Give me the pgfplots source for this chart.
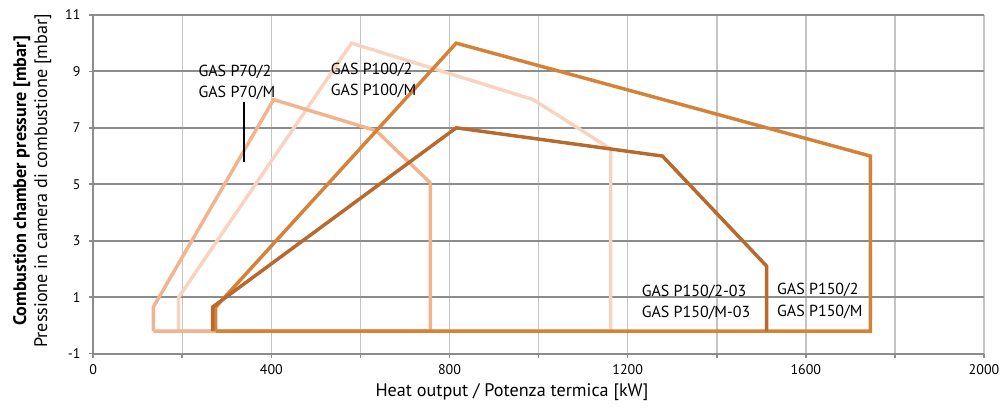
\documentclass[border=0pt]{standalone}
\usepackage{pgfplots}
\pgfplotsset{compat=1.18}
\usepackage{fontspec}
\setmainfont{PT Sans}

\definecolor{cPseventy}{HTML}{F3B48D}
\definecolor{cPhundred}{HTML}{F8D3C0}
\definecolor{cPthree}{HTML}{B8692D}
\definecolor{cPtwo}{HTML}{D58238}
\definecolor{gridlight}{HTML}{C4C4C4}
\definecolor{griddark}{HTML}{8C8C8C}

\begin{document}
\begin{tikzpicture}
\begin{axis}[
  scale only axis,
  width=668pt, height=254pt,
  xmin=0, xmax=2000, ymin=-1, ymax=11,
  axis x line*=bottom, axis y line*=left,
  axis line style={griddark, line width=1.4pt},
  xtick={0,200,...,2000},
  xticklabels={0,,400,,800,,1200,,1600,,2000},
  ytick={-1,1,3,5,7,9,11},
  tick align=outside,
  major tick length=3pt,
  tick style={griddark, line width=1.2pt},
  grid=major,
  major x grid style={gridlight, line width=1.1pt},
  major y grid style={griddark, line width=1.4pt},
  /pgf/number format/assume math mode=true,
  /pgf/number format/1000 sep={},
  ticklabel style={font=\fontsize{10.5}{12}\selectfont, text=black},
  xticklabel style={yshift=-2pt},
  yticklabel style={xshift=-3pt},
  xlabel={Heat output / Potenza termica [kW]},
  xlabel style={at={(axis description cs:0.47,-0.115)}, anchor=center, font=\fontsize{13.6}{16}\selectfont},
  ylabel={\textbf{Combustion chamber pressure [mbar]}\\Pressione in camera di combustione [mbar]},
  ylabel style={at={(axis description cs:-0.0685,0.51)}, anchor=center, align=center, font=\fontsize{13.6}{15.75}\selectfont},
  clip=false,
  every axis plot/.append style={line width=2.6pt, line join=miter},
]
% working ranges
\addplot[cPhundred] coordinates {(192,-0.2)(192,1)(580,10)(988,8)(1162,6.25)(1162,-0.2)(192,-0.2)};
\addplot[cPseventy] coordinates {(135,-0.2)(135,0.65)(405,8)(635,6.9)(757,5.05)(757,-0.2)(135,-0.2)};
\addplot[cPtwo] coordinates {(275,-0.2)(275,0.65)(815,10)(1745,6)(1745,-0.2)(275,-0.2)};
\addplot[cPthree] coordinates {(268,-0.2)(268,0.65)(815,7)(1278,6)(1512,2.1)(1512,-0.2)};

% labels
\tikzset{lbl/.style={anchor=west, align=left, inner sep=0pt, font=\fontsize{12}{16}\selectfont}}
\node[lbl] at (axis cs:236,8.6) {GAS P70/2\\GAS P70/M};
\draw[black, line width=1.5pt] (axis cs:339,7.93) -- (axis cs:339,5.8);
\node[lbl] at (axis cs:533,8.68) {GAS P100/2\\GAS P100/M};
\node[lbl] at (axis cs:1231,0.82) {GAS P150/2-03\\GAS P150/M-03};
\node[lbl] at (axis cs:1535,0.87) {GAS P150/2\\GAS P150/M};
\end{axis}
\pgfresetboundingbox
\path (current axis.south west) ++(-69.9pt,-41.2pt) coordinate (bl);
\path (current axis.north east) ++(12pt,11.2pt) coordinate (tr);
\path[use as bounding box] (bl) rectangle (tr);
\end{tikzpicture}
\end{document}
